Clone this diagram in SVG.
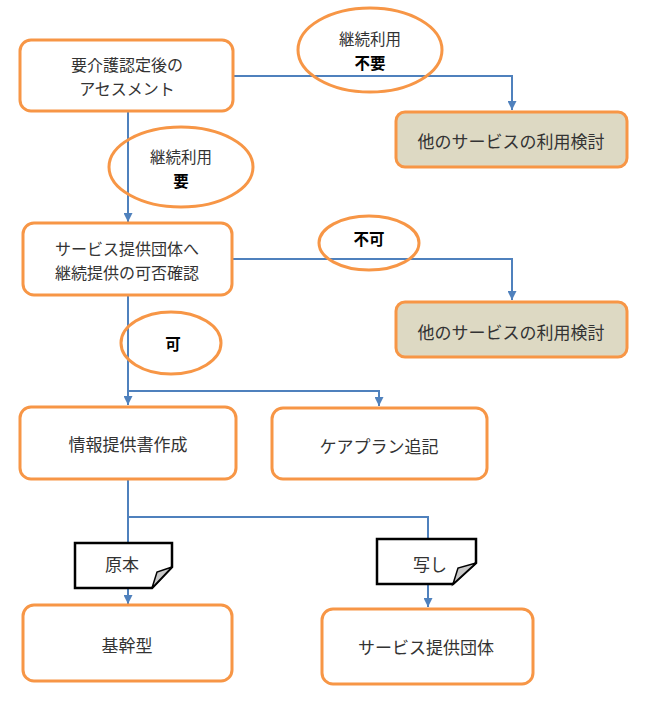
<svg xmlns="http://www.w3.org/2000/svg" width="650" height="701" viewBox="0 0 650 701">
<defs>
<style>
.box{fill:#FFFFFF;stroke:#F79646;stroke-width:3}
.tan{fill:#DDD9C3;stroke:#F79646;stroke-width:3}
.oval{fill:none;stroke:#F79646;stroke-width:3}
.doc{fill:#FFFFFF;stroke:#000000;stroke-width:2.5;stroke-linejoin:miter}
.fold{fill:#C8C8C8;stroke:#000000;stroke-width:1.5}
.ln{fill:none;stroke:#4F81BD;stroke-width:2}
.t{font-family:"Noto Sans CJK JP","Noto Sans CJK SC",sans-serif;font-size:17px;fill:#333333;text-anchor:middle;dominant-baseline:central}
.m{font-size:16px}
.s{font-size:15.5px}
.b{font-weight:bold;fill:#000000}
</style>
<marker id="ah" viewBox="0 0 10 10" refX="10" refY="5" markerWidth="4.5" markerHeight="4.5" orient="auto" markerUnits="strokeWidth">
<path d="M0,0 L10,5 L0,10 Z" fill="#4F81BD"/>
</marker>
</defs>
<rect width="650" height="701" fill="#FFFFFF"/>
<g id="connectors">
<path class="ln" d="M128,111 V222" marker-end="url(#ah)"/>
<path class="ln" d="M233,76 H512 V110" marker-end="url(#ah)"/>
<path class="ln" d="M232,259 H512 V300" marker-end="url(#ah)"/>
<path class="ln" d="M128,295 V405" marker-end="url(#ah)"/>
<path class="ln" d="M128,391 H379 V406" marker-end="url(#ah)"/>
<path class="ln" d="M128,479 V543"/>
<path class="ln" d="M128,517 H428 V539"/>
<path class="ln" d="M128,588 V604" marker-end="url(#ah)"/>
<path class="ln" d="M428,584 V607" marker-end="url(#ah)"/>
</g>
<g id="n1">
<rect class="box" x="20" y="40" width="213" height="71" rx="11"/>
<text class="t m" x="127" y="64">要介護認定後の</text>
<text class="t m" x="127" y="88">アセスメント</text>
</g>
<g id="e1">
<ellipse class="oval" cx="370" cy="50" rx="72" ry="42"/>
<text class="t s" x="370" y="38">継続利用</text>
<text class="t s b" x="370" y="62">不要</text>
</g>
<g id="n2">
<rect class="tan" x="396" y="112" width="231" height="55" rx="9"/>
<text class="t" x="511" y="140">他のサービスの利用検討</text>
</g>
<g id="e2">
<ellipse class="oval" cx="181" cy="167" rx="72" ry="40"/>
<text class="t s" x="181" y="156">継続利用</text>
<text class="t s b" x="181" y="180">要</text>
</g>
<g id="n3">
<rect class="box" x="23" y="223" width="209" height="72" rx="11"/>
<text class="t m" x="127" y="248">サービス提供団体へ</text>
<text class="t m" x="127" y="272">継続提供の可否確認</text>
</g>
<g id="e3">
<ellipse class="oval" cx="369" cy="243" rx="50" ry="27"/>
<text class="t s b" x="369" y="238">不可</text>
</g>
<g id="n4">
<rect class="tan" x="396" y="302" width="231" height="55" rx="9"/>
<text class="t" x="511" y="331">他のサービスの利用検討</text>
</g>
<g id="e4">
<ellipse class="oval" cx="171" cy="343" rx="50" ry="31"/>
<text class="t s b" x="173" y="343">可</text>
</g>
<g id="n5">
<rect class="box" x="20" y="407" width="216" height="72" rx="11"/>
<text class="t" x="128" y="443">情報提供書作成</text>
</g>
<g id="n6">
<rect class="box" x="272" y="408" width="215" height="71" rx="11"/>
<text class="t" x="379" y="445">ケアプラン追記</text>
</g>
<g id="d1">
<path class="doc" d="M75,543 H172 V567 L152,588 H75 Z"/>
<path class="fold" d="M152,588 L157,572 L172,567 Z"/>
<text class="t" x="122" y="563">原本</text>
</g>
<g id="d2">
<path class="doc" d="M377,539 H476 V563 L453,584 H377 Z"/>
<path class="fold" d="M453,584 L458,568 L476,563 Z"/>
<text class="t" x="430" y="563">写し</text>
</g>
<g id="n7">
<rect class="box" x="23" y="605" width="209" height="76" rx="11"/>
<text class="t" x="127" y="644">基幹型</text>
</g>
<g id="n8">
<rect class="box" x="322" y="609" width="211" height="75" rx="11"/>
<text class="t" x="426" y="646">サービス提供団体</text>
</g>
</svg>
